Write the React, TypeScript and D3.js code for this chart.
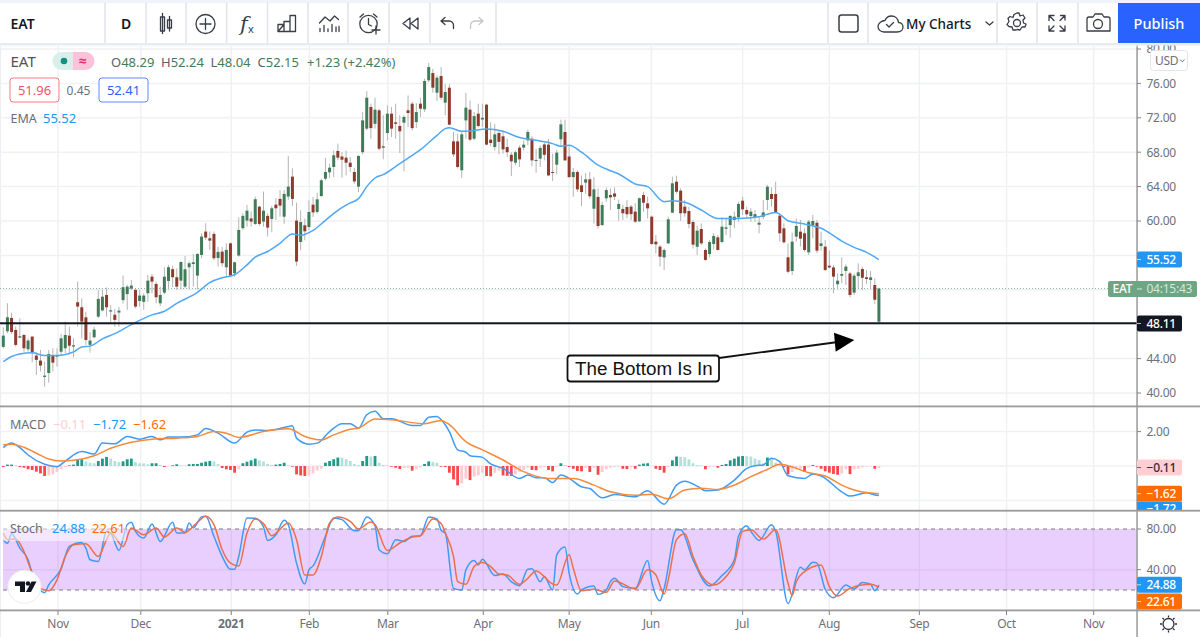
import React from "react";
import * as d3 from "d3";

// [open, high, low, close] per daily bar
const ohlc: [number, number, number, number][] = [
[45.36,47.64,45.2,46.67],[47.18,50.43,46.95,48.81],[48.73,49.35,46.87,47.1],[47.33,47.72,45.4,45.59],[46.44,48.69,46.36,46.6],
[46.75,46.87,44.8,45.2],[45.08,46.36,44.8,46.1],[46.56,46.56,43.57,44.7],[44.35,44.8,42.1,43.85],[43.77,45,42.5,43.19],
[41.87,43.65,40.74,42.02],[42.33,45,41.2,44.54],[44.35,45.2,42.5,43.53],[44.23,45.2,43.07,44.39],[44.8,46.87,44.54,46.36],
[45.2,48.3,44.6,46.75],[46.67,47.7,44.7,45.5],[45.4,46.36,44.15,45.55],[50.55,52.95,47.72,50.05],[49.97,51,46.36,48.3],
[48.8,49.45,45.6,46.17],[45.6,47.1,44.7,46.1],[46.48,47.7,46.36,47.37],[48.88,52,48.69,50.94],[49.6,52,49.47,51.2],
[51.4,52.26,48.88,49.97],[49.47,50.24,48.19,49.62],[49.1,49.78,47.72,48.5],[49.35,50,47.72,49.58],[50.8,53.65,50.4,52.3],
[51.5,52.57,49.66,52.37],[52.14,53.15,52,52.49],[52,52.06,49.85,50.05],[50.7,52,50.05,51.33],[50.6,51.6,49.66,51.33],
[51.6,53.73,50.63,53.07],[53.53,53.84,51.6,52.95],[52.68,52.95,50.43,51.13],[50.43,52.37,50.1,51.4],[51.67,54.62,51.5,53.53],
[53.03,54.9,52,54.62],[54.4,54.8,52.3,53.46],[53.46,54.5,52,52.37],[53.07,55.28,52.06,55.24],[52.37,55.94,52.18,54.39],
[54.62,55.3,52.06,55.09],[55,56.17,52.37,55.2],[53.65,56.25,52.06,56.17],[56.05,58.57,55.67,58.19],[58.77,59.74,57.8,58.07],
[57.99,58.77,56.64,57.72],[58.5,58.77,55.47,55.67],[55.7,57,54.7,56.4],[56.44,57,54.7,55.09],[54.62,57.4,53.5,56.64],
[57.4,57.49,53.5,53.65],[53.92,55.28,53.53,55.2],[55.98,60.43,55.86,58.96],[59.16,60.9,58.96,60.6],[60.05,61.87,59.35,61.2],
[60.3,61.1,59.35,59.93],[59.66,62.84,59.54,62.53],[61.67,61.75,59.43,59.66],[59.93,63.42,59.35,61.2],[60.6,60.9,58.19,59.23],
[60.24,61.75,58.69,61.48],[61.9,62.64,60.12,61.48],[62.57,63.6,60.5,61.79],[60.5,63.6,59.66,63.15],[62.84,67.57,62.45,64],
[65.16,66.13,61.75,62.57],[60.05,62.14,54.78,55.28],[57.56,61.24,56.6,59.88],[59.5,60.27,57.75,58.8],[59.3,62.4,58.9,61.05],
[61.9,62.8,60.47,61],[61.05,63.26,60.85,62.52],[62.9,64.92,62.8,64.73],[64.92,67.36,64.73,65.7],[65.66,66.67,65,66.2],
[66.28,68.2,65.1,67.64],[68.14,69,67.05,67.36],[67.5,68,65.04,67.13],[67.36,68.2,65.3,66.78],[66.78,67.44,65.7,66.28],
[65.7,66.2,64.34,64.6],[64,67.64,63.37,67.56],[68,72.67,67.75,71.7],[70.74,75.1,70.54,74.34],[73.26,73.64,69.57,70.8],
[71.3,74.34,70.74,72.95],[72.87,73.06,68.2,68.4],[68.68,72.3,67.17,68.53],[70.23,73.45,69.38,72.48],[72.48,73.26,69.77,70.74],
[71.47,73.64,69.57,71.3],[71.05,72.3,67.9,70.43],[71.43,72.3,65.77,72.1],[72.87,74.6,70.93,72.56],[73.64,73.84,70.54,70.8],
[71.5,73.7,70.8,72.67],[73.64,74.34,72.1,73.06],[73,76.55,72.67,76.28],[76.36,78.37,76.16,77.9],[77.2,77.7,74.92,75.5],
[74.92,76.94,73.95,76.67],[76.86,77.9,74.1,74.34],[73.76,75.9,72.3,75],[75.5,75.9,71.12,71.2],[69.26,70.35,67.44,67.75],
[69.26,70.15,66.1,66.28],[65.9,70.35,65,70.08],[71.7,74.92,69.57,73.18],[72.95,74,69.26,69.46],[69.57,72.67,69.38,72.2],
[72.48,73.64,70.93,71.05],[71.8,73.64,70.93,72],[73.53,73.64,68.8,68.88],[69.46,71.5,68.68,69.07],[68.6,71.3,68.2,70.08],
[70.23,70.54,67.75,69.2],[69.85,70.54,67.83,68.33],[68.6,69.57,67.44,68],[67.7,68,65.23,66.94],[66.78,68.2,66.47,68],
[68.53,68.8,66.28,67.17],[68.53,69.38,68.2,68.88],[69.38,70.62,68.8,70.35],[69.57,69.85,66.36,67.05],[66.98,68.4,65.62,67.1],
[67.25,68.8,66.28,68.5],[68.9,69.07,67.05,67.7],[68.88,69.57,65.2,65.3],[65.7,67.83,64.65,65.58],[66.55,68.3,65.4,67.95],
[69.5,71.78,68.6,71.24],[70.35,71.78,67,67.05],[67.5,68.68,65.04,65.1],[65.1,66.16,62.8,65.7],[65.7,65.9,63.37,63.68],
[64.15,65.3,61.74,63.37],[64.46,65.58,63.18,64.85],[64.85,65.7,62.6,62.87],[61.43,65.1,59.7,63.68],[62.8,63.76,59.1,59.42],
[59.53,62.25,59.42,61.86],[62.64,63.9,62.25,63.6],[63.02,63.8,61.28,62.75],[63.2,63.9,62.44,62.83],[61.4,62.5,60,61.98],
[61.4,61.86,60.1,60.9],[61.63,62.44,60.3,60.78],[61.67,61.86,60.1,60.8],[61.09,62.05,59.8,59.92],[59.96,62.75,59.88,62.64],
[63.02,63.4,61.09,62.13],[62.05,62.83,60.3,61.47],[60.5,60.62,57.2,57.33],[57.6,58.37,56.24,57.29],[57.02,57.2,54.7,55.85],
[55.77,56.82,54.3,56.63],[57.4,60.5,57.33,60.2],[60.97,65.15,60.9,64.38],[64.57,65.27,63.2,63.4],[63.53,63.8,60.03,60.9],
[61.67,62.44,60.5,60.9],[61.16,61.67,59.15,59.65],[59.88,60.1,56.8,57.25],[57,59.42,56.05,58.88],[59.07,59.73,57.2,57.4],
[56.63,56.82,55.4,55.47],[56.16,57.8,55.78,57.56],[57.33,58.57,56.7,58.26],[58.1,58.37,56.55,56.63],[57.56,60.43,57.4,59.34],
[59.1,60.3,58.37,59.26],[59.53,60.7,58.06,60.58],[60.12,61.09,59.15,60.5],[60.43,62.25,59.92,61.98],[62.36,62.83,60.7,61.36],
[61.28,61.67,60.43,60.78],[60.58,61.47,59.92,61.09],[60.43,61.28,59.92,60.8],[59.57,60.5,58.57,59.8],[60.5,62.44,60.2,61],
[62.44,64.19,61.28,63.99],[63.14,63.9,61.67,62.56],[63.14,64.57,60.9,61],[60.62,60.81,57.6,58.57],[59.15,59.73,57.4,57.52],
[55.78,57.4,53.9,54.1],[54.19,58.64,53.72,57.6],[58.18,60.3,57.6,59.42],[58.76,60.12,57.02,57.95],[58.57,59.15,56.43,56.63],
[56.36,60.12,56.05,59.92],[59.53,60.7,57.98,60],[59.8,60.12,56.24,56.55],[57.09,58.76,56.55,57.4],[57.02,57.8,54.19,54.3],
[54.8,56.55,54.5,54.6],[54.6,54.88,51.6,53.53],[52.64,53.9,52.05,53.06],[53.64,55.78,52.75,53.84],[54.19,54.96,52.56,54.7],
[53.9,54.1,51.12,51.4],[51.67,53.9,51.4,53.64],[53.6,55.08,52.17,54.03],[54.42,54.7,51.98,53.4],[53.45,54.3,52.67,53.26],
[53.14,54.2,52.05,53.45],[52.56,53.33,50.35,50.85],[48.29,52.24,48.04,52.15],
];

const emaBars = [0,2,4,7,10,13,17,19,21,24,27,31,36,39,42,47,50,53,56,59,61,64,67,70,72,75,78,81,84,86,88,90,92,96,98,101,105,107,108,111,113,117,121,125,129,133,135,137,140,144,147,149,153,156,160,162,165,169,173,178,183,187,188,190,194,198,203,206,209,212];
const emaVals = [43.65,44.25,44.54,44.68,44.35,44.35,44.78,45.36,45.45,46.3,46.9,47.95,49.08,49.5,50.43,51.7,52.84,53.4,53.75,54.9,55.8,56.45,57.4,58.5,58.33,58.9,60.08,61.24,62.1,62.6,64,65,65.4,66.67,67.3,68.3,69.96,70.74,70.85,70.43,70.47,70.7,70.43,69.7,69.38,69,68.7,68.8,68,66.5,65.85,65.47,64.3,64,62.25,62.36,62.17,61.28,60.3,60.3,60.5,61,60.78,60.03,59.65,59.15,57.67,56.94,56.36,55.52];

const macdBars = [0,2,4,6,10,13,15,19,22,24,27,30,33,36,38,40,43,47,49,52,56,59,61,64,69,70,71,74,76,79,82,84,86,88,90,92,94,99,101,103,105,106,107,108,110,112,113,116,118,121,125,127,129,131,133,135,137,140,142,145,148,153,156,160,163,165,168,170,173,177,180,182,184,186,188,190,194,196,198,203,205,209,211,212];
const macdVals = [1.07,1.33,1.07,0.64,0.1,-0.04,0.29,0.84,0.7,1.33,1.29,1.72,1.56,1.72,1.52,1.68,1.68,1.81,2.18,1.91,1.33,1.97,2.1,2.07,2.3,2.34,1.62,1.27,1.33,2,2.46,2.46,2.2,2.98,3.18,2.75,2.75,2.36,2.36,2.83,2.88,2.69,2.4,2,0.94,0.8,0.6,0.5,0.12,-0.14,-0.72,-0.53,-0.68,-0.68,-0.96,-0.53,-0.72,-1.21,-1.31,-1.85,-1.66,-1.79,-1.44,-2.22,-1.11,-0.88,-1.17,-1.44,-1.4,-0.82,-0.14,0.02,0.06,0.45,0.25,-0.57,-0.72,-0.47,-0.58,-1.5,-1.75,-1.56,-1.68,-1.72];

const signalBars = [0,2,5,8,11,14,17,22,26,31,36,42,47,51,54,57,63,69,73,77,80,84,86,90,94,102,106,108,112,116,121,126,132,138,143,147,153,157,161,165,169,173,177,181,185,188,190,195,199,203,206,212];
const signalVals = [1.23,1.27,1.09,0.74,0.41,0.29,0.33,0.6,1.03,1.38,1.56,1.62,1.72,2,1.91,1.66,2,2.16,1.72,1.52,1.81,2.14,2.2,2.73,2.69,2.46,2.65,2.4,1.42,0.94,0.35,-0.33,-0.72,-0.72,-1.11,-1.5,-1.7,-1.64,-1.91,-1.4,-1.3,-1.36,-1.11,-0.62,-0.2,0.1,0.02,-0.39,-0.58,-1.11,-1.4,-1.62];

const histVals = [-0.06,0.08,0.08,0.04,-0.06,-0.1,-0.19,-0.23,-0.33,-0.43,-0.58,-0.55,-0.49,-0.35,-0.19,-0.06,0.04,0.08,0.35,0.39,0.27,0.19,0.16,0.29,0.43,0.53,0.43,0.29,0.23,0.27,0.39,0.43,0.23,0.16,0.15,0.1,0.16,0.16,0.06,-0.06,-0.02,0.04,0.1,0.04,0.02,0.1,0.12,0.12,0.19,0.25,0.29,0.27,0.12,-0.12,-0.19,-0.23,-0.39,-0.19,0.16,0.25,0.33,0.43,0.33,0.27,0.12,0.06,0.08,0.12,0.19,0.04,-0.04,-0.49,-0.55,-0.58,-0.55,-0.43,-0.27,-0.16,0.19,0.29,0.39,0.49,0.48,0.39,0.29,0.12,0.06,0.29,0.58,0.55,0.58,0.19,0.06,0.04,-0.04,-0.1,-0.18,-0.12,-0.11,-0.27,-0.19,-0.08,0.12,0.27,0.23,0.19,-0.04,-0.06,-0.39,-0.78,-1.13,-1.01,-0.74,-0.82,-0.62,-0.55,-0.39,-0.58,-0.6,-0.39,-0.27,-0.55,-0.57,-0.58,-0.49,-0.35,-0.23,-0.1,-0.23,-0.25,-0.1,-0.06,-0.23,-0.31,-0.04,0.16,0.06,-0.06,-0.16,-0.29,-0.31,-0.1,-0.35,-0.1,-0.51,-0.35,-0.19,-0.1,-0.06,-0.04,-0.16,-0.18,-0.06,-0.16,0.08,0.14,0.16,0.02,-0.16,-0.23,-0.39,-0.06,0.33,0.55,0.53,0.51,0.39,0.16,0.06,0.04,-0.19,-0.06,-0.04,-0.1,0.06,0.12,0.33,0.43,0.55,0.58,0.57,0.55,0.43,0.35,0.16,0.49,0.43,0.19,0.1,-0.06,-0.49,-0.35,-0.19,-0.16,-0.35,-0.08,0.06,-0.04,-0.16,-0.31,-0.39,-0.47,-0.51,-0.43,-0.19,-0.47,-0.19,-0.16,-0.08,-0.04,-0.02,-0.16,-0.11];

const kBars = [0,1,2,4,6,7,10,11,14,16,19,20,21,23,25,26,28,30,31,32,34,36,38,41,42,44,45,46,48,49,51,53,55,56,57,59,61,63,64,66,68,69,71,73,74,75,78,80,82,85,86,88,90,91,93,95,97,99,101,103,105,106,107,109,111,112,114,115,116,119,121,123,125,127,128,130,131,133,134,136,137,139,140,143,144,146,147,148,150,153,156,157,159,160,163,164,167,171,174,177,178,180,181,183,186,187,190,193,194,196,197,199,201,204,206,208,210,211,212];
const kVals = [69.5,66,75.4,61.2,49.7,36.5,17.4,25,40.8,62.9,66.8,61.2,49.7,48,77.7,76,58.9,84.3,86.6,77.7,71.1,85,67.8,86.6,76,76,85.9,81,91.9,92.5,72.8,53,40.4,40.4,53,90.9,90.6,82,68.8,74.4,88.6,84.3,46.4,25.9,39.8,43.7,72.8,90.9,89.2,78.4,78.4,91.9,83.3,59.6,55.6,69.5,67.8,72.8,73.4,91.9,89.9,78.7,76,21.6,20,39.8,49,44.7,50.3,34.2,35.8,28.2,24.3,40.4,40.8,28.2,33.2,20,54.6,62.2,36.5,16,20,24,15.7,20,28.2,31.5,23.3,21.6,49,28.2,9.4,21.6,79.3,79.3,49.7,24,34.2,49.7,72.8,83.3,77.7,68.8,84.3,77.7,6.8,42.4,39.8,47.4,46.4,20.7,12.4,24.9,21,27.3,25.6,19.3,24.88];

const dBars = [0,1,3,5,7,9,11,13,15,17,20,23,25,26,29,31,34,37,39,42,44,47,49,51,53,55,57,59,61,63,65,69,71,73,75,77,79,81,84,86,89,90,93,96,99,101,104,106,107,109,110,112,114,116,118,120,122,125,127,129,133,134,137,138,140,143,146,148,153,156,158,160,161,163,165,167,169,172,175,177,179,181,184,187,190,191,192,194,198,200,202,205,210,212];
const dVals = [76,69.5,70.1,57.9,36.5,21.6,19.3,29.9,53,64.5,65.5,53,69.5,76,62.9,81,74.4,81,72.1,81,76.7,86.6,92.5,84.3,59.6,46.4,43.7,76,89.9,85.3,73.4,85.9,69.5,34.8,34.8,53,85.9,91.9,87.6,80,86.9,84.3,58.9,66.2,72.1,73.4,89.9,85.3,76,53,28.2,25.6,43.1,47,43.1,35.8,34.8,25.6,31.5,38.8,25.9,24.9,54.6,41.4,19.3,20.7,17.7,28.9,21,39.8,34.8,16,29.9,69.5,75.4,53,34.8,24.9,33.2,46.4,77.7,79.3,70.1,79.3,26.6,14.4,28.2,38.1,44.7,23.3,14.1,21.6,25.6,22.61];

const priceTicks = [40,44,48,52,56,60,64,68,72,76,80];
const hiddenPriceLabels = [48,52,56];
const macdTicks = [2,0,-2];
const stochTicks = [80,40];
const monthLabels = ["Nov","Dec","2021","Feb","Mar","Apr","May","Jun","Jul","Aug","Sep","Oct","Nov"];
const monthBars = [13.25,33.3,55.2,74.1,93.1,116.2,137,156.9,179,200,221.8,242.9,264];
const hLevel = 48.11;
const lastClose = 52.15;
const ohlcLegend = [["O","48.29"],["H","52.24"],["L","48.04"],["C","52.15"]];

const FONT = "'Noto Sans', 'Open Sans', sans-serif";
const C = { up:"#3f7d5a", down:"#8e3a2c", wick:"#b4b4b4", ema:"#4fa8f5", blue:"#3f9bf5", orange:"#f58a3c", stochD:"#ea6f4b", grid:"#f0f1f4", axis:"#9a9a9a", text:"#6d7079", dark:"#2a2e39", sep:"#e0e3eb" };

const x = d3.scaleLinear().domain([0,212]).range([3.3,878.9]);
const yP = d3.scaleLinear().domain([40,80]).range([393,49]);
const yM = d3.scaleLinear().domain([-2,2]).range([500.4,431.6]);
const yS = d3.scaleLinear().domain([20,80]).range([590,529]);
const lineOf = (xs:number[], vs:number[], y:d3.ScaleLinear<number,number>) =>
  d3.line<number>().x(b=>x(b)).y((_,i)=>y(vs[i])).curve(d3.curveMonotoneX)(xs) as string;
const histColor = (v:number,p:number) => v>=0 ? (v>=p?"#1f9a87":"#b5e0da") : (v<p?"#f8484b":"#fdcbd0");

const AXIS_X = 1137;
const AXFONT = { fontSize:12, letterSpacing:-0.25 };
const Tag = ({y,h=16,w=45,x0=AXIS_X,fill,color="#fff",label}:{y:number;h?:number;w?:number;x0?:number;fill:string;color?:string;label:string}) => (
  <g>
    <rect x={x0} y={y-h/2} width={w} height={h} rx={2} fill={fill}/>
    <line x1={x0} x2={x0+4} y1={y} y2={y} stroke={color} strokeOpacity={0.7}/>
    <text x={x0+9.5} y={y+4.3} {...AXFONT} fontWeight={500} fill={color} fontFamily={FONT}>{label}</text>
  </g>
);

const Sep = ({x:px}:{x:number}) => <line x1={px} x2={px} y1={3} y2={43} stroke={C.sep} strokeWidth={1.5}/>;
const ic = { fill:"none", stroke:"#3a3d47", strokeWidth:1.3, strokeLinecap:"round" as const, strokeLinejoin:"round" as const };

const Toolbar = () => (
  <g>
    <rect x={0} y={0} width={1200} height={3} fill="#f0f3fa"/>
    <rect x={0} y={3} width={1200} height={40} fill="#fff"/>
    <rect x={0} y={43} width={1200} height={2.5} fill="#e8ebf2"/>
    <rect x={0} y={45.5} width={1137} height={1} fill="#f4f5f8"/>
    {[105,146,186,226.6,267.5,308,348,389,430,496,828,868,997,1037,1078].map(v=><Sep key={v} x={v}/>)}
    <text x={10.5} y={29} fontSize={14} fontWeight={600} fill="#131722" fontFamily={FONT}>EAT</text>
    <text x={126} y={29} fontSize={14} fontWeight={600} textAnchor="middle" fill="#131722" fontFamily={FONT}>D</text>
    <g {...ic}>
      {/* candles */}
      <rect x={160.5} y={17} width={4} height={14}/><line x1={162.5} x2={162.5} y1={13.5} y2={33.5}/>
      <rect x={167.5} y={20} width={4} height={8}/><line x1={169.5} x2={169.5} y1={16.5} y2={31}/>
      {/* plus circle */}
      <circle cx={205.5} cy={24} r={9.5}/><path d="M205.5 18.5v11M200 24h11"/>
      {/* chart bars */}
      <path d="M278 31.500h17.500v-16h-5.500v16M284 31.500v-10h6M278 31.500v-7h6z"/>
      {/* indicators */}
      <path d="M319.500 23l5.500-6 5 4 4.500-5 4 3.500"/><path d="M320 31.500v-3M324 31.500v-6M328 31.500v-2.500M332 31.500v-7M336 31.500v-4.500M339 31.500v-5"/>
      {/* alarm */}
      <circle cx={368.500} cy={24} r={8.700}/><path d="M368.500 18.500v6l3 1.500M360 17l3.500-3M377 17l-3.500-3M376 34v-8M372 30h8"/>
      {/* rewind */}
      <path d="M410 18l-7 5.500 7 5.500zM418 18l-7 5.500 7 5.500z"/>
      {/* undo */}
      <path d="M441 21h8c3 0 4.500 2.500 4.500 4.500v3M441 21l4-3.500M441 21l4 3.500"/>
    </g>
    <g {...ic} stroke="#c3c5cc">
      <path d="M483 21h-8c-3 0-4.500 2.500-4.500 4.500v3M483 21l-4-3.500M483 21l-4 3.500"/>
    </g>
    <text x={240} y={31} fontSize={21} fontStyle="italic" fontFamily="'DejaVu Serif', serif" fill="#3a3d47">f</text>
    <text x={248} y={33} fontSize={11} fill="#3a3d47" fontFamily={FONT}>x</text>
    <g {...ic}>
      <rect x={839} y={15} width={19} height={17} rx={2.5} strokeWidth={1.5}/>
      <path d="M884 32h13c4 0 6-2.500 6-5s-2-4.500-4.500-4.500c-.5-4-3.500-6.500-7-6.500-3.500 0-5.500 2-6.500 4.500-3 0-7 2.500-7 6 0 3 2.500 5.500 6 5.500z"/>
      <path d="M886.500 24.500l2.500 2.500 4.500-4.500"/>
      <path d="M986 22l3.500 3 3.500-3"/>
      <circle cx={1017} cy={23} r={3.5}/>
      <path d="M1017 13l2 0 1 3 3-1 2 3-2 2 .5 3 2.500 1-1 3-3 0-2 3-3-.5-1 .5-3 0-1-3-3-.5-2-2 2-3-1-3 2-2 3 1 1-3z"/>
      <path d="M1049 15.500l5 0M1049 15.500l0 5M1049 15.500l5 5M1065 15.500h-4.500M1065 15.500v4.500M1065 15.500l-5 5M1049 31h5M1049 31v-5M1049 31l5-5M1065 31h-5M1065 31v-5M1065 31l-5-5"/>
      <path d="M1087 31V19c0-1 1-2 2-2h4l2-3h7l2 3h4c1 0 2 1 2 2v12z"/>
      <circle cx={1098} cy={24} r={4.500}/>
    </g>
    <text x={906} y={29} fontSize={13.500} fontWeight={500} fill="#131722" fontFamily={FONT}>My Charts</text>
    <rect x={1118} y={3} width={82} height={40} fill="#2962ff"/>
    <text x={1159} y={29} fontSize={14.500} fontWeight={500} textAnchor="middle" fill="#fff" fontFamily={FONT}>Publish</text>
  </g>
);

const ohlcX = [111,161,210.5,257.5];
const Ohlc = () => (
  <g fontSize={13} fontFamily={FONT}>
    {ohlcLegend.map(([k,v],i)=>(
      <text key={k} x={ohlcX[i]} y={66.5}><tspan fill="#5d606b">{k}</tspan><tspan fill="#3f7d5a">{v}</tspan></text>
    ))}
    <text x={307} y={66.5} fill="#3f7d5a">+1.23 (+2.42%)</text>
  </g>
);

export default function App(){
  return (
    <svg width={1200} height={637} viewBox="0 0 1200 637" style={{position:"fixed",left:0,top:0,background:"#fff",display:"block"}} fontFamily={FONT}>
      <defs>
        <clipPath id="pc"><rect x={0} y={46} width={AXIS_X} height={360}/></clipPath>
        <clipPath id="mc"><rect x={0} y={407} width={AXIS_X} height={103}/></clipPath>
        <clipPath id="sc"><rect x={0} y={511} width={AXIS_X} height={99}/></clipPath>
        <clipPath id="tc"><rect x={AXIS_X} y={502} width={60} height={8}/></clipPath>
      </defs>
      <rect x={0} y={0} width={1200} height={637} fill="#fff"/>
      <line x1={0.5} x2={0.5} y1={43} y2={637} stroke="#eceef3"/>

      {/* grid */}
      {monthBars.map((b,i)=><line key={i} x1={x(b)} x2={x(b)} y1={46} y2={610} stroke={C.grid} strokeWidth={1.5}/>)}
      {priceTicks.map(t=><line key={t} x1={0} x2={AXIS_X} y1={yP(t)} y2={yP(t)} stroke={C.grid} strokeWidth={1.5}/>)}
      {macdTicks.map(t=><line key={t} x1={0} x2={AXIS_X} y1={yM(t)} y2={yM(t)} stroke={C.grid} strokeWidth={1.5}/>)}

      {/* price panel */}
      <g clipPath="url(#pc)">
        <line x1={0} x2={AXIS_X} y1={yP(lastClose)} y2={yP(lastClose)} stroke="#6fa884" strokeDasharray="1 2" strokeOpacity={0.8}/>
        {ohlc.map(([,h,l],i)=>(
          <line key={i} x1={x(i)} x2={x(i)} y1={yP(h)} y2={yP(l)} stroke={C.wick} strokeWidth={1}/>
        ))}
        {ohlc.map(([o,,,c],i)=>{
          const top=yP(Math.max(o,c)), bot=yP(Math.min(o,c));
          return <rect key={i} x={x(i)-1.5} y={top} width={3} height={Math.max(bot-top,1)} fill={c>=o?C.up:C.down}/>;
        })}
        <path d={lineOf(emaBars,emaVals,yP)} fill="none" stroke={C.ema} strokeWidth={1.5}/>
        <line x1={0} x2={AXIS_X} y1={yP(hLevel)} y2={yP(hLevel)} stroke="#131722" strokeWidth={2}/>
      </g>

      {/* annotation */}
      <line x1={719} y1={358} x2={838} y2={342} stroke="#111" strokeWidth={1.8}/>
      <path d="M834 332.700 L854.300 340 L835.700 351.700 Z" fill="#000"/>
      <rect x={567.5} y={355.500} width={151.500} height={26} rx={3} fill="#fff" stroke="#111" strokeWidth={1.8}/>
      <text x={575} y={375} fontSize={18.800} fill="#111" fontFamily="'Liberation Sans', Arial, sans-serif">The Bottom Is In</text>

      {/* MACD */}
      <g clipPath="url(#mc)">
        {histVals.map((v,i)=>{
          const y0=yM(0), y1=yM(v);
          return <rect key={i} x={x(i)-1.4} y={Math.min(y0,y1)} width={2.8} height={Math.abs(y1-y0)} fill={histColor(v,i?histVals[i-1]:0)}/>;
        })}
        <path d={lineOf(macdBars,macdVals,yM)} fill="none" stroke={C.blue} strokeWidth={1.5}/>
        <path d={lineOf(signalBars,signalVals,yM)} fill="none" stroke={C.orange} strokeWidth={1.5}/>
      </g>

      {/* Stoch */}
      <rect x={3} y={yS(80)} width={AXIS_X-3} height={yS(20)-yS(80)} fill="#e9cffd"/>
      {monthBars.map((b,i)=><line key={i} x1={x(b)} x2={x(b)} y1={yS(80)} y2={yS(20)} stroke="#dfc3f3" strokeWidth={1.5}/>)}
      <line x1={3} x2={AXIS_X} y1={yS(40)} y2={yS(40)} stroke="#dfc3f3" strokeWidth={1.5}/>
      <line x1={3} x2={AXIS_X} y1={yS(80)} y2={yS(80)} stroke="#787b86" strokeDasharray="4 4"/>
      <line x1={3} x2={AXIS_X} y1={yS(20)} y2={yS(20)} stroke="#787b86" strokeDasharray="4 4"/>
      <g clipPath="url(#sc)">
        <path d={lineOf(kBars,kVals,yS)} fill="none" stroke={C.blue} strokeWidth={1.5}/>
        <path d={lineOf(dBars,dVals,yS)} fill="none" stroke={C.stochD} strokeWidth={1.5}/>
      </g>
      <rect x={2} y={517} width={124} height={24} fill="#fff" fillOpacity={0.5}/>

      {/* logo */}
      <circle cx={24.5} cy={586.700} r={16.500} fill="#fff" stroke="#ececf0"/>
      <path d="M15 581.500h10v10.500h-5v-6h-5z" fill="#131722"/>
      <circle cx={28} cy={583.500} r={2.300} fill="#131722"/>
      <path d="M31.500 581.500h5l-5.500 10.500h-5z" fill="#131722"/>

      {/* panel dividers and axes */}
      <rect x={0} y={405.500} width={1200} height={1.8} fill={C.axis}/>
      <rect x={0} y={509.800} width={1200} height={1.8} fill={C.axis}/>
      <rect x={0} y={609.500} width={1200} height={1.8} fill={C.axis}/>
      <rect x={AXIS_X-0.7} y={45} width={1.5} height={592} fill={C.axis}/>

      {/* y axis labels */}
      {priceTicks.map(t=>(
        <g key={t}>
          <line x1={AXIS_X} x2={AXIS_X+4} y1={yP(t)} y2={yP(t)} stroke="#80838c"/>
          {hiddenPriceLabels.includes(t) ? null : <text x={AXIS_X+9.5} y={yP(t)+4.3} {...AXFONT} fill={C.text}>{t.toFixed(2)}</text>}
        </g>
      ))}
      {macdTicks.map(t=>(
        <g key={t}>
          <line x1={AXIS_X} x2={AXIS_X+4} y1={yM(t)} y2={yM(t)} stroke="#80838c"/>
          {t===2 ? <text x={AXIS_X+9.5} y={yM(t)+4.3} {...AXFONT} fill={C.text}>{t.toFixed(2)}</text> : null}
        </g>
      ))}
      {stochTicks.map(t=>(
        <g key={t}>
          <line x1={AXIS_X} x2={AXIS_X+4} y1={yS(t)} y2={yS(t)} stroke="#80838c"/>
          <text x={AXIS_X+9.5} y={yS(t)+4.3} {...AXFONT} fill={C.text}>{t.toFixed(2)}</text>
        </g>
      ))}
      <rect x={1150.500} y={50.500} width={37} height={20} rx={3} fill="#fff" stroke="#e3e5ec"/>
      <text x={1155} y={65} {...AXFONT} fill={C.text}>USD</text>
      <path d="M1180 59.500l2.300 2.300 2.300-2.300" fill="none" stroke={C.text}/>

      {/* time axis */}
      {monthBars.map((b,i)=>(
        <g key={i}>
          <line x1={x(b)} x2={x(b)} y1={611} y2={615} stroke="#80838c"/>
          <text x={x(b)} y={628} {...AXFONT} textAnchor="middle" fill={C.text} fontWeight={monthLabels[i]==="2021"?700:400}>{monthLabels[i]}</text>
        </g>
      ))}
      <g fill="none" stroke="#2a2e39" strokeWidth={1.3}>
        <circle cx={1168.500} cy={624} r={5.500}/>
        <path d="M1168.500 615.500v2M1168.500 630.500v2M1160 624h2M1175 624h2M1162.500 618l1.500 1.500M1173 628.500l1.500 1.500M1174.500 618l-1.500 1.500M1164 628.500l-1.500 1.500"/>
      </g>

      {/* value tags */}
      <Tag y={259.500} fill="#2196f3" label="55.52"/>
      <g>
        <rect x={1108} y={281} width={89} height={16} rx={2} fill="#6ea583"/>
        <text x={1112.500} y={293.300} {...AXFONT} fontWeight={500} fill="#fff">EAT</text>
        <line x1={1137} x2={1142} y1={289} y2={289} stroke="#d8e6dc"/>
        <text x={1146.500} y={293.300} {...AXFONT} fill="#d8e6dc">04:15:43</text>
      </g>
      <Tag y={323.500} fill="#131722" label="48.11"/>
      <Tag y={467.500} fill="#ffcdd2" color="#2a2e39" label="−0.11"/>
      <rect x={AXIS_X} y={501.700} width={45} height={8.200} fill="#2196f3"/>
      <text x={AXIS_X+9.5} y={513} {...AXFONT} fontWeight={500} fill="#fff" clipPath="url(#tc)">−1.72</text>
      <Tag y={493.700} fill="#ff6d00" label="−1.62"/>
      <Tag y={584.800} fill="#2196f3" label="24.88"/>
      <Tag y={601.500} fill="#ff6d00" label="22.61"/>

      {/* legends */}
      <text x={10.500} y={66.500} fontSize={15} fill="#50535e">EAT</text>
      <path d="M72.700 52h-11.300a9 9 0 0 0 0 18h11.300z" fill="#d8efea"/>
      <path d="M72.700 52h12.800a9 9 0 0 1 0 18h-12.800z" fill="#fbc3da"/>
      <circle cx={64} cy={61} r={3.300} fill="#14917e"/>
      <text x={82.500} y={66} fontSize={14} fontWeight={700} textAnchor="middle" fill="#e0356f">≈</text>
      <Ohlc/>
      <rect x={10} y={78} width={49} height={24} rx={3} fill="#fff" stroke="#f77c80"/>
      <text x={34.500} y={95} fontSize={13} textAnchor="middle" fill="#f7525f">51.96</text>
      <text x={78.500} y={95} fontSize={12} textAnchor="middle" fill={C.text}>0.45</text>
      <rect x={99} y={78} width={49} height={24} rx={3} fill="#fff" stroke="#5f87ff"/>
      <text x={123.500} y={95} fontSize={13} textAnchor="middle" fill="#2962ff">52.41</text>
      <text x={10.500} y={123} fontSize={12.500} fill="#6a6d78">EMA</text>
      <text x={43} y={123} fontSize={13} fill="#2196f3">55.52</text>
      <text x={10} y={428.500} fontSize={12.500} fill="#6a6d78">MACD</text>
      <text x={53} y={428.500} fontSize={13} fill="#ffcdd2">−0.11</text>
      <text x={93} y={428.500} fontSize={13} fill="#2196f3">−1.72</text>
      <text x={133} y={428.500} fontSize={13} fill="#ff6d00">−1.62</text>
      <text x={10} y={533} fontSize={12.500} fill="#6a6d78">Stoch</text>
      <text x={52} y={533} fontSize={13} fill="#2196f3">24.88</text>
      <text x={92} y={533} fontSize={13} fill="#ff6d00">22.61</text>

      <Toolbar/>
    </svg>
  );
}
